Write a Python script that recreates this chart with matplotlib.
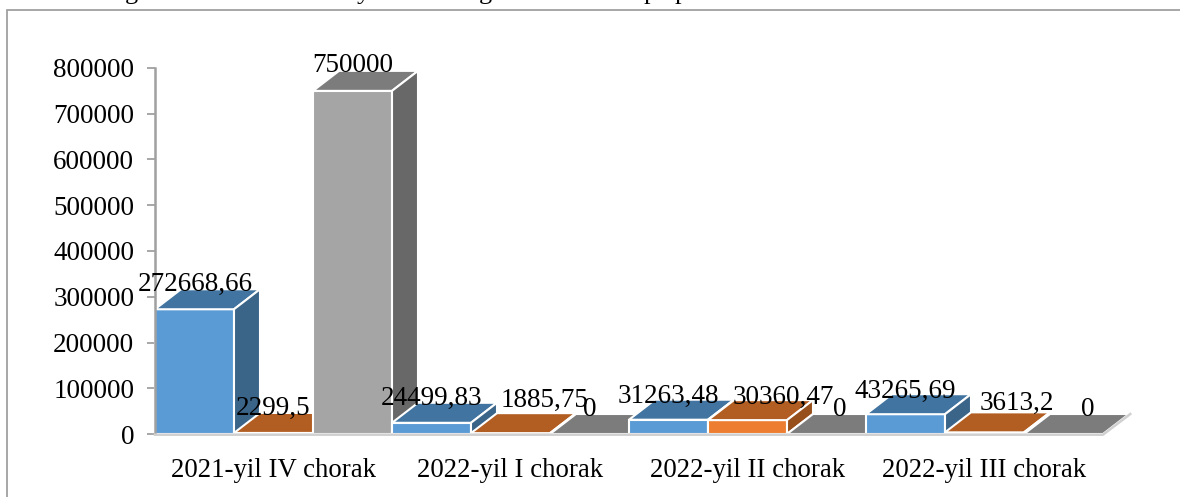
import numpy as np
import matplotlib.pyplot as plt
from matplotlib.patches import Polygon, Rectangle

plt.rcParams['font.family'] = ['Liberation Serif', 'DejaVu Serif']

kvartal = ['2021-yil IV chorak', '2022-yil I chorak', '2022-yil II chorak', '2022-yil III chorak']
seriya1 = [272668.66, 24499.83, 31263.48, 43265.69]
seriya2 = [2299.5, 1885.75, 30360.47, 3613.2]
seriya3 = [750000, 0, 0, 0]
yozuv1 = ['272668,66', '24499,83', '31263,48', '43265,69']
yozuv2 = ['2299,5', '1885,75', '30360,47', '3613,2']
yozuv3 = ['750000', '0', '0', '0']

# label shift from the bar centre top, in pixels
siljish1 = [(1, 25), (0, 24), (0, 23), (0, 23)]
siljish2 = [(0, 25), (34, 33), (36, 23), (32, 29)]
siljish3 = [(0, 25), (0, 24), (13, 24), (24, 24)]

ranglar = [('#5B9BD5', '#4174A0', '#3A6488'),
           ('#ED7D31', '#B25E22', '#974F1C'),
           ('#A5A5A5', '#7C7C7C', '#686868')]

W, H = 1180, 497
fig = plt.figure(figsize=(W / 100, H / 100), dpi=100)
fig.add_artist(Rectangle((7 / W, -0.1), 1.1, 1 - 10 / H + 0.1, transform=fig.transFigure,
                         fc='none', ec='#A0A0A0', lw=1.3))

# only the tails of the line above the chart are left in the picture
for harf, px in zip('gygpp', [131, 363, 485, 650, 681]):
    fig.text(px / W, 1 + 1 / H, harf, fontsize=19, ha='center', va='baseline', color='black')

ax = fig.add_axes([155 / W, (H - 434) / H, 989 / W, 366 / H])
ax.patch.set_alpha(0)
ax.set_xlim(0, 989 / 79)
ax.set_ylim(0, 800000)

dx = 26 / 79
dy = 20 / 366 * 800000

# floor edge under the bars
ax.plot([0, 12, 12 + dx * 1.05], [-1500, -1500, dy], color='#D0D0D0', lw=1.8, clip_on=False, zorder=5)

son = 0
for k in range(4):
    for s, seriya in enumerate([seriya1, seriya2, seriya3]):
        v = seriya[k]
        old, ust, yon = ranglar[s]
        z = 2 + son * 0.1
        ax.bar(son, v, width=1, align='edge', color=old, edgecolor='white', linewidth=1.5,
               zorder=z, clip_on=False)
        ax.add_patch(Polygon([(son, v), (son + dx, v + dy), (son + 1 + dx, v + dy), (son + 1, v)],
                             fc=ust, ec='white', lw=1.5, zorder=z, clip_on=False))
        if v > 0:
            ax.add_patch(Polygon([(son + 1, 0), (son + 1 + dx, dy), (son + 1 + dx, v + dy), (son + 1, v)],
                                 fc=yon, ec='white', lw=1.5, zorder=z, clip_on=False))
        son += 1

for s, (seriya, yozuv, siljish) in enumerate(zip([seriya1, seriya2, seriya3],
                                                 [yozuv1, yozuv2, yozuv3],
                                                 [siljish1, siljish2, siljish3])):
    for k in range(4):
        ax.annotate(yozuv[k], (3 * k + s + 0.5, seriya[k]), xytext=siljish[k],
                    textcoords='offset pixels', ha='center', va='center',
                    fontsize=19.5, color='black', zorder=20, annotation_clip=False)

ax.set_xticks([1.5, 4.5, 7.5, 10.5])
ax.set_xticklabels(kvartal, fontsize=19.3)
ax.tick_params(axis='x', length=0, pad=17)
ax.set_yticks(np.arange(0, 800001, 100000))
ax.tick_params(axis='y', labelsize=19.5, length=6, width=1.3, color='#A0A0A0', pad=9)

for sp in ['top', 'right', 'bottom']:
    ax.spines[sp].set_visible(False)
ax.spines['left'].set_color('#A0A0A0')
ax.spines['left'].set_linewidth(1.8)

plt.savefig('out.png', dpi=100)
